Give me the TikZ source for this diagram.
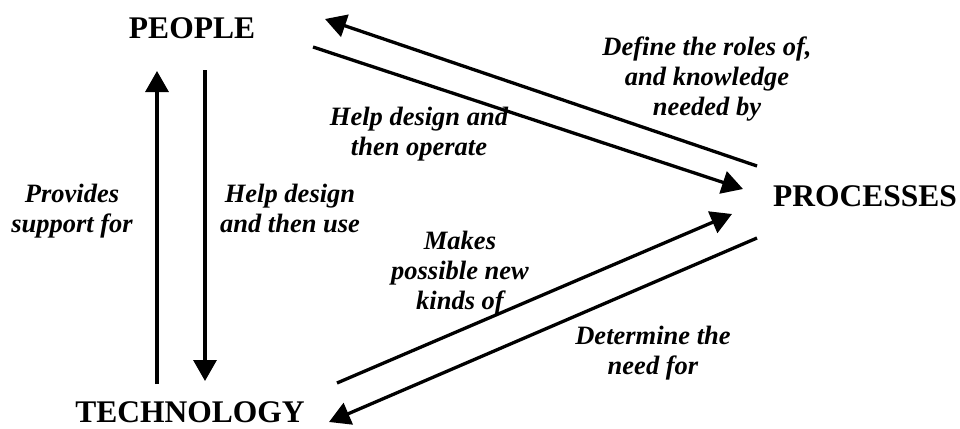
\documentclass[tikz,border=0pt]{standalone}
\usepackage{fontspec}
\setmainfont{Liberation Serif}
\usetikzlibrary{arrows.meta}
\begin{document}
\begin{tikzpicture}[x=1pt,y=-1pt,
  title/.style={font=\fontsize{31.5}{34}\selectfont\bfseries, inner sep=0pt},
  lbl/.style={font=\fontsize{26.5}{30}\selectfont\bfseries\itshape, align=center, inner sep=0pt},
  arr/.style={line width=3.3pt, -{Triangle[length=21pt,width=23pt]}}]
\useasboundingbox (0,0) rectangle (960,428);
% main nodes
\node[title] (people) at (192,28) {PEOPLE};
\node[title] (processes) at (865,196) {PROCESSES};
\node[title] (technology) at (190,412) {TECHNOLOGY};
% labels
\node[lbl] (l1) at (72,211) {Provides\\support for};
\node[lbl] (l2) at (290,208) {Help design\\and then use};
\node[lbl] (l3) at (419,134) {Help design and\\then operate};
\node[lbl] (l4) at (707,79) {Define the roles of,\\and knowledge\\needed by};
\node[lbl] (l5) at (460,273) {Makes\\possible new\\kinds of};
\node[lbl] (l6) at (653,353) {Determine the\\need for};
% arrow end points
\coordinate (a1s) at (757,166); \coordinate (a1e) at (325,19);
\coordinate (a2s) at (313,47);  \coordinate (a2e) at (743,189);
\coordinate (a3s) at (157,384); \coordinate (a3e) at (157,71);
\coordinate (a4s) at (205,70);  \coordinate (a4e) at (205,381);
\coordinate (a5s) at (337,383); \coordinate (a5e) at (732,214);
\coordinate (a6s) at (757,238); \coordinate (a6e) at (329,422);
\draw[arr] (a1s) -- (a1e);
\draw[arr] (a2s) -- (a2e);
\draw[arr] (a3s) -- (a3e);
\draw[arr] (a4s) -- (a4e);
\draw[arr] (a5s) -- (a5e);
\draw[arr] (a6s) -- (a6e);
\end{tikzpicture}
\end{document}
